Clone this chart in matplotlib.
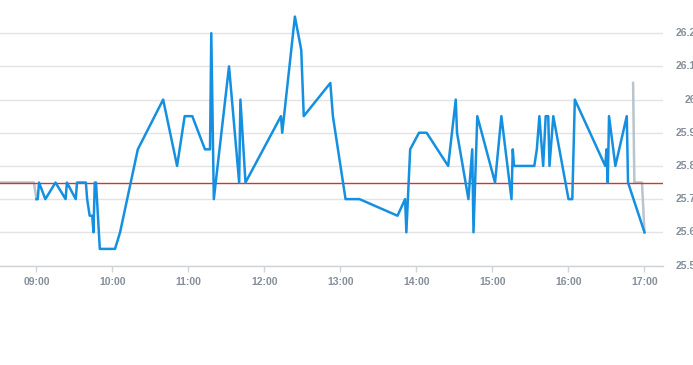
from matplotlib import pyplot as plt
import matplotlib.dates as mdates
import pandas as pd

DAY = '2020-06-26 '

# intraday trades (time, price)
times = ['09:00', '09:01', '09:02', '09:07', '09:15', '09:23', '09:24', '09:31',
         '09:32', '09:39', '09:40', '09:42', '09:44', '09:45', '09:46', '09:47',
         '09:50', '10:02', '10:06', '10:20', '10:40', '10:51', '10:57', '11:03',
         '11:13', '11:17', '11:18', '11:20', '11:32', '11:40', '11:41', '11:45',
         '12:13', '12:14', '12:24', '12:29', '12:31', '12:52', '12:54', '13:04',
         '13:15', '13:45', '13:51', '13:52', '13:55', '14:02', '14:08', '14:25',
         '14:31', '14:32', '14:41', '14:44', '14:45', '14:48', '15:02', '15:07',
         '15:15', '15:16', '15:17', '15:33', '15:35', '15:37', '15:40', '15:42',
         '15:44', '15:45', '15:48', '16:00', '16:03', '16:05', '16:29', '16:30',
         '16:31', '16:32', '16:37', '16:46', '16:47', '17:00']
prices = [25.70, 25.70, 25.75, 25.70, 25.75, 25.70, 25.75, 25.70,
          25.75, 25.75, 25.70, 25.65, 25.65, 25.60, 25.75, 25.75,
          25.55, 25.55, 25.60, 25.85, 26.00, 25.80, 25.95, 25.95,
          25.85, 25.85, 26.20, 25.70, 26.10, 25.75, 26.00, 25.75,
          25.95, 25.90, 26.25, 26.15, 25.95, 26.05, 25.95, 25.70,
          25.70, 25.65, 25.70, 25.60, 25.85, 25.90, 25.90, 25.80,
          26.00, 25.90, 25.70, 25.85, 25.60, 25.95, 25.75, 25.95,
          25.70, 25.85, 25.80, 25.80, 25.85, 25.95, 25.80, 25.95,
          25.95, 25.80, 25.95, 25.70, 25.70, 26.00, 25.80, 25.85,
          25.75, 25.95, 25.80, 25.95, 25.75, 25.60]

# auction / off-hours segments
pre_times = ['08:31', '08:58', '09:00']
pre_prices = [25.75, 25.75, 25.70]
post_times = ['16:51', '16:52', '16:58', '17:00']
post_prices = [26.05, 25.75, 25.75, 25.60]

prev_close = 25.75
hour_ticks = ['09:00', '10:00', '11:00', '12:00', '13:00', '14:00', '15:00', '16:00', '17:00']
price_ticks = [25.5, 25.6, 25.7, 25.8, 25.9, 26.0, 26.1, 26.2]
price_labels = ['25.5', '25.6', '25.7', '25.8', '25.9', '26', '26.1', '26.2']


def to_dt(lst):
    return pd.to_datetime([DAY + t for t in lst])


LABEL_COLOR = '#848f9b'

fig = plt.figure(figsize=(6.93, 3.65), dpi=100)
ax = fig.add_axes([0, 0.2726, 0.9567, 0.7274])

ax.plot(to_dt(pre_times), pre_prices, color='#b9c4cc', lw=1.8, zorder=2)
ax.plot(to_dt(post_times), post_prices, color='#b9c4cc', lw=1.8, zorder=2)
ax.axhline(prev_close, color='#d9342b', lw=1, zorder=3)
ax.plot(to_dt(times), prices, color='#1590e0', lw=1.8, zorder=4)

ax.set_xlim(pd.Timestamp(DAY + '08:31:12'), pd.Timestamp(DAY + '17:14:36'))
ax.set_ylim(25.5, 26.3)

ax.set_yticks(price_ticks)
ax.yaxis.grid(True, color='#e3e3e3', lw=1)
ax.set_axisbelow(True)
ax.tick_params(axis='y', length=0, labelleft=False)
for v, lab in zip(price_ticks, price_labels):
    ax.text(1.0 + 33 / 663, v, lab, transform=ax.get_yaxis_transform(),
            ha='right', va='center', fontsize=7.5, fontweight='bold',
            color=LABEL_COLOR, family='Liberation Sans')

ax.set_xticks(to_dt(hour_ticks))
ax.xaxis.set_major_formatter(mdates.DateFormatter('%H:%M'))
ax.tick_params(axis='x', length=4, width=1, color='#d0d5da', pad=4,
               labelsize=7.5, labelcolor=LABEL_COLOR)
for lab in ax.get_xticklabels():
    lab.set_fontweight('bold')
    lab.set_family('Liberation Sans')

for s in ['top', 'left', 'right']:
    ax.spines[s].set_visible(False)
ax.spines['bottom'].set_color('#ccd3d9')
ax.spines['bottom'].set_linewidth(1)

fig.savefig('out.png', dpi=100)
